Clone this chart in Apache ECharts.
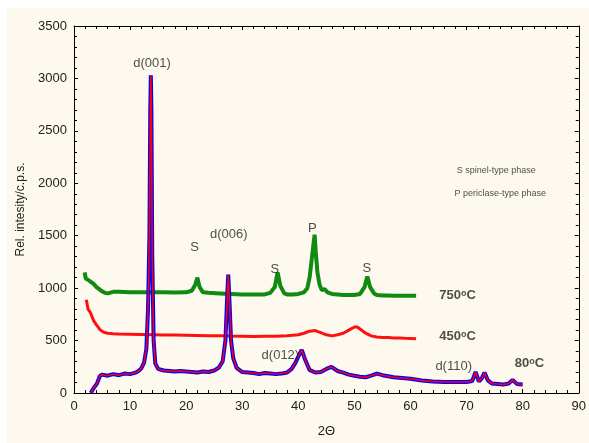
<!DOCTYPE html>
<html>
<head>
<meta charset="utf-8">
<script src="https://cdn.jsdelivr.net/npm/echarts@6/dist/echarts.min.js"></script>
<style>
  html, body { margin: 0; padding: 0; background: #ffffff; }
  #chart { position: absolute; left: 7px; top: 8px; width: 582px; height: 435px; }
</style>
</head>
<body>
<div id="chart"></div>
<script>
// 80°C sample (points + fitted line)
const x80 = [3.0, 3.3, 3.7, 4.1, 4.6, 5.0, 6, 7, 8, 9, 10, 11, 11.5, 12, 12.5, 12.9, 13.2, 13.45, 13.6, 13.7, 13.8, 13.95, 14.2, 14.5, 15, 16, 17, 18, 19, 20, 21, 22, 23, 24, 25, 25.8, 26.5, 27.0, 27.3, 27.5, 27.7, 28.0, 28.4, 29, 30, 31, 32, 33, 34, 35, 36, 37, 38, 38.8, 39.5, 40.1, 40.6, 41.2, 42.0, 43, 44, 45, 45.9, 47, 48, 49, 50, 51, 52, 53, 54, 55, 56, 57, 58, 59, 60, 62, 64, 66, 68, 70, 71, 71.6, 72.2, 72.7, 73.2, 73.8, 74.5, 75.5, 76.5, 77.5, 78.2, 79, 80];
const y80 = [0, 30, 60, 90, 160, 175, 165, 180, 170, 185, 180, 195, 210, 235, 290, 420, 800, 1500, 2700, 3030, 2700, 1300, 500, 280, 230, 215, 210, 205, 210, 205, 200, 195, 205, 200, 215, 240, 300, 500, 900, 1130, 900, 500, 330, 240, 200, 195, 190, 180, 190, 185, 180, 185, 195, 230, 290, 360, 410, 320, 220, 195, 200, 230, 250, 210, 195, 175, 165, 155, 150, 165, 185, 170, 160, 150, 145, 140, 135, 120, 110, 105, 105, 105, 115, 200, 110, 140, 195, 120, 90, 85, 80, 90, 125, 85, 80];

// 450°C sample
const x450 = [2.2, 2.5, 2.9, 3.5, 4.0, 4.7, 5.3, 6.0, 7, 8, 10, 12, 14, 16, 18, 20, 22, 24, 26, 28, 30, 32, 34, 36, 38, 40, 41, 42, 43, 44, 45, 46, 47, 48, 49, 50, 50.5, 51, 52, 53, 54, 55, 56, 57, 58, 59, 60, 61];
const y450 = [890, 800, 770, 690, 650, 600, 580, 570, 565, 562, 560, 558, 556, 554, 552, 550, 548, 546, 545, 543, 542, 540, 542, 542, 546, 555, 570, 590, 595, 575, 555, 545, 555, 570, 600, 630, 630, 610, 570, 545, 535, 530, 530, 525, 525, 522, 520, 518];

// 750°C sample
const x750 = [1.9, 2.1, 2.5, 3, 3.5, 4, 4.5, 5, 5.5, 6, 7, 8, 10, 12, 14, 16, 18, 20, 21, 21.6, 22.0, 22.4, 23, 24, 26, 28, 30, 32, 34, 35, 35.8, 36.3, 36.8, 37.5, 38, 39, 40, 41, 41.6, 42.0, 42.4, 42.7, 42.9, 43.1, 43.4, 43.8, 44.2, 44.7, 45.2, 46, 47, 48, 49, 50, 51, 51.8, 52.3, 52.8, 53.5, 54, 55, 56, 57, 58, 59, 60, 61];
const y750 = [1150, 1090, 1080, 1060, 1040, 1010, 990, 970, 955, 950, 965, 965, 960, 960, 962, 960, 958, 960, 975, 1030, 1100, 1010, 960, 955, 950, 945, 940, 940, 940, 955, 1010, 1150, 1020, 950, 940, 940, 945, 960, 1000, 1100, 1280, 1420, 1510, 1350, 1150, 1030, 980, 990, 960, 945, 940, 935, 935, 935, 945, 1010, 1110, 1010, 950, 935, 930, 930, 928, 928, 928, 928, 928];

// annotations [x, y, text]
const peakLabels = [
  [13.9, 3139, 'd(001)'],
  [27.6, 1514, 'd(006)'],
  [36.8, 357, 'd(012)'],
  [67.7, 257, 'd(110)'],
  [21.5, 1390, 'S'],
  [35.8, 1181, 'S'],
  [42.5, 1570, 'P'],
  [52.2, 1191, 'S']
];
const tempLabels = [
  [68.4, 934, '750'],
  [68.4, 538, '450'],
  [81.2, 285, '80']
];
const noteLabels = [
  [75.3, 2125, 'S spinel-type phase'],
  [76.0, 1903, 'P periclase-type phase']
];

const zip = (xs, ys) => xs.map((v, i) => [v, ys[i]]);

const tickStyle = { show: true, inside: true, length: 4, lineStyle: { color: '#000' } };
const minorStyle = { show: true, splitNumber: 5, length: 3, lineStyle: { color: '#000' } };
const lineStyle = { show: true, onZero: false, lineStyle: { color: '#000', width: 1 } };
const labelFont = { fontFamily: 'Liberation Sans, Arial', fontSize: 13, color: '#222' };

const chart = echarts.init(document.getElementById('chart'));
chart.setOption({
  animation: false,
  backgroundColor: '#fdf9ee',
  grid: { left: 66, right: 6, top: 18, bottom: 49 },
  xAxis: [
    {
      type: 'value', min: 0, max: 90, interval: 10,
      name: '2\u0398', nameLocation: 'middle', nameGap: 32,
      nameTextStyle: { fontFamily: 'Liberation Sans, Arial', fontSize: 13, color: '#222' },
      axisLine: lineStyle, axisTick: tickStyle, minorTick: minorStyle,
      splitLine: { show: false },
      axisLabel: Object.assign({ margin: 7, formatter: v => String(v) }, labelFont)
    },
    {
      type: 'value', min: 0, max: 90, interval: 10, position: 'top',
      axisLine: lineStyle, axisTick: tickStyle, minorTick: minorStyle,
      splitLine: { show: false }, axisLabel: { show: false }
    }
  ],
  yAxis: [
    {
      type: 'value', min: 0, max: 3500, interval: 500,
      name: 'Rel. intesity/c.p.s.', nameLocation: 'middle', nameGap: 47,
      nameTextStyle: { fontFamily: 'Liberation Sans, Arial', fontSize: 12, color: '#222' },
      axisLine: lineStyle, axisTick: tickStyle, minorTick: minorStyle,
      splitLine: { show: false },
      axisLabel: Object.assign({ margin: 7, formatter: v => String(v) }, labelFont)
    },
    {
      type: 'value', min: 0, max: 3500, interval: 500, position: 'right',
      axisLine: lineStyle, axisTick: tickStyle, minorTick: minorStyle,
      splitLine: { show: false }, axisLabel: { show: false }
    }
  ],
  series: [
    {
      name: '750', type: 'line', data: zip(x750, y750), showSymbol: false,
      lineStyle: { color: '#118a11', width: 4 }, z: 2
    },
    {
      name: '450', type: 'line', data: zip(x450, y450), showSymbol: false,
      lineStyle: { color: '#ff1010', width: 3 }, z: 2
    },
    {
      name: '80', type: 'line', data: zip(x80, y80), showSymbol: false,
      lineStyle: { color: '#0000ff', width: 4 }, z: 3
    },
    {
      name: '80 fit', type: 'line', data: zip(x80, y80), showSymbol: false,
      lineStyle: { color: '#ff0000', width: 1.5 }, z: 4
    },
    {
      type: 'scatter', data: peakLabels, symbolSize: 0, silent: true, z: 5,
      label: {
        show: true, position: 'inside',
        formatter: p => p.value[2],
        fontFamily: 'Liberation Sans, Arial', fontSize: 13, color: '#222'
      }
    },
    {
      type: 'scatter', data: tempLabels, symbolSize: 0, silent: true, z: 5,
      label: {
        show: true, position: 'inside',
        formatter: p => '{n|' + p.value[2] + '}{o|o}{n|C}',
        rich: {
          n: { fontFamily: 'Liberation Sans, Arial', fontSize: 13, fontWeight: 'bold', color: '#222' },
          o: { fontFamily: 'Liberation Sans, Arial', fontSize: 9, fontWeight: 'bold', color: '#222', verticalAlign: 'top' }
        }
      }
    },
    {
      type: 'scatter', data: noteLabels, symbolSize: 0, silent: true, z: 5,
      label: {
        show: true, position: 'inside',
        formatter: p => p.value[2],
        fontFamily: 'Liberation Sans, Arial', fontSize: 9, color: '#222'
      }
    }
  ]
});
</script>
</body>
</html>
